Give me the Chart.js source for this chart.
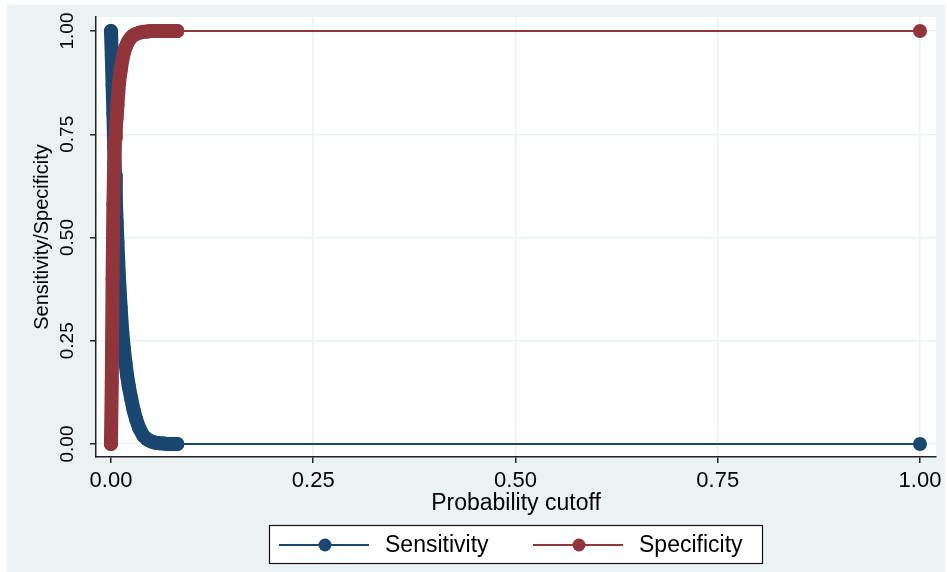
<!DOCTYPE html>
<html>
<head>
<meta charset="utf-8">
<script src="https://cdn.jsdelivr.net/npm/chart.js@4"></script>
<style>
  html, body { margin: 0; padding: 0; background: #fff; }
</style>
</head>
<body>
<canvas id="lsensChart" width="947" height="572"></canvas>
<script>
// probability cutoffs and the two rates
const cutoffs = [0, 0.001, 0.002, 0.003, 0.004, 0.005, 0.006, 0.007, 0.008, 0.009, 0.010,
    0.012, 0.014, 0.016, 0.018, 0.020, 0.022, 0.025, 0.028, 0.031, 0.035, 0.040, 0.045,
    0.050, 0.055, 0.060, 0.065, 0.070, 0.075, 0.080, 0.082, 1.0];
const sensitivity = [1.000, 0.940, 0.870, 0.800, 0.720, 0.650, 0.590, 0.540, 0.490, 0.440, 0.400,
    0.330, 0.270, 0.230, 0.195, 0.165, 0.140, 0.110, 0.082, 0.060, 0.038, 0.020, 0.011,
    0.006, 0.003, 0.002, 0.001, 0.000, 0.000, 0.000, 0.000, 0.000];
const specificity = [0.000, 0.150, 0.400, 0.580, 0.680, 0.740, 0.770, 0.790, 0.820, 0.850, 0.875,
    0.905, 0.930, 0.948, 0.960, 0.970, 0.977, 0.985, 0.990, 0.993, 0.996, 0.998, 0.999,
    1.000, 1.000, 1.000, 1.000, 1.000, 1.000, 1.000, 1.000, 1.000];
const tickValues = [0, 0.25, 0.5, 0.75, 1];
const seriesNames = ['Sensitivity', 'Specificity'];
const seriesColors = ['#1a476f', '#90353b'];

const FONT = "'Liberation Sans', Arial, Helvetica, sans-serif";

function toPoints(values) {
    return cutoffs.map((c, i) => ({ x: c, y: values[i] }));
}

function makeSet(i, values) {
    return {
        label: seriesNames[i],
        data: toPoints(values),
        borderColor: seriesColors[i],
        backgroundColor: seriesColors[i],
        pointBackgroundColor: seriesColors[i],
        pointBorderWidth: 0,
        pointRadius: 7,
        pointHoverRadius: 7,
        borderWidth: 2,
        borderCapStyle: 'round',
        borderJoinStyle: 'round',
        tension: 0,
        order: 2 - i,
        // the dense part of the curve is a solid band of markers in the original
        segment: {
            borderWidth: ctx => ctx.p1.parsed.x > 0.5 ? 2 : 14
        }
    };
}

const stataBackground = {
    id: 'stataBackground',
    beforeDraw(chart) {
        const ctx = chart.ctx;
        const a = chart.chartArea;
        ctx.save();
        ctx.fillStyle = '#ffffff';
        ctx.fillRect(0, 0, chart.width, chart.height);
        ctx.fillStyle = '#eaf2f3';
        ctx.fillRect(7, 5, 938, 567);
        ctx.fillStyle = '#ffffff';
        ctx.fillRect(a.left, a.top, a.right - a.left, a.bottom - a.top);
        ctx.restore();
    }
};

const stataLegend = {
    id: 'stataLegend',
    afterDraw(chart) {
        const ctx = chart.ctx;
        ctx.save();
        ctx.fillStyle = '#ffffff';
        ctx.fillRect(269.5, 525.5, 493, 38);
        ctx.strokeStyle = '#111';
        ctx.lineWidth = 1.2;
        ctx.strokeRect(269.5, 525.5, 493, 38);
        const starts = [279, 533];
        const y = 545;
        ctx.font = '23px ' + FONT;
        ctx.textBaseline = 'middle';
        chart.data.datasets.forEach((ds, i) => {
            const x0 = starts[i];
            ctx.strokeStyle = ds.borderColor;
            ctx.lineWidth = 2;
            ctx.beginPath();
            ctx.moveTo(x0, y);
            ctx.lineTo(x0 + 90, y);
            ctx.stroke();
            ctx.fillStyle = ds.borderColor;
            ctx.beginPath();
            ctx.arc(x0 + 46, y, 6.5, 0, Math.PI * 2);
            ctx.fill();
            ctx.fillStyle = '#000';
            ctx.fillText(ds.label, x0 + 106, y + 1);
        });
        ctx.restore();
    }
};

const setTicks = scale => { scale.ticks = tickValues.map(v => ({ value: v })); };
const fmt = v => Number(v).toFixed(2);

new Chart(document.getElementById('lsensChart'), {
    type: 'line',
    data: {
        datasets: [makeSet(0, sensitivity), makeSet(1, specificity)]
    },
    options: {
        responsive: false,
        animation: false,
        layout: { padding: { top: 17, right: 11, left: 0, bottom: 0 } },
        plugins: {
            legend: { display: false },
            tooltip: { enabled: false }
        },
        scales: {
            x: {
                type: 'linear',
                min: -0.0185,
                max: 1.0198,
                afterBuildTicks: setTicks,
                afterFit: s => { s.height = 115; },
                border: { display: true, color: '#222', width: 1.5 },
                grid: { color: '#eaf2f3', lineWidth: 1.5, tickColor: '#222', tickLength: 6, tickWidth: 1.5 },
                ticks: {
                    callback: fmt, autoSkip: false, maxRotation: 0,
                    padding: 5, color: '#000', font: { family: FONT, size: 22 }
                },
                title: {
                    display: true, text: 'Probability cutoff', color: '#000',
                    font: { family: FONT, size: 23 }, padding: { top: 0, bottom: 55 }
                }
            },
            y: {
                type: 'linear',
                min: -0.0315,
                max: 1.034,
                afterBuildTicks: setTicks,
                afterFit: s => { s.width = 96; },
                border: { display: true, color: '#222', width: 1.5 },
                grid: { color: '#eaf2f3', lineWidth: 1.5, tickColor: '#222', tickLength: 6, tickWidth: 1.5 },
                ticks: {
                    callback: fmt, autoSkip: false, minRotation: 90, maxRotation: 90,
                    crossAlign: 'center', padding: 4, color: '#000', font: { family: FONT, size: 19 }
                },
                title: {
                    display: true, text: 'Sensitivity/Specificity', color: '#000',
                    font: { family: FONT, size: 20 }, padding: { top: 30, bottom: 0 }
                }
            }
        }
    },
    plugins: [stataBackground, stataLegend]
});
</script>
</body>
</html>
